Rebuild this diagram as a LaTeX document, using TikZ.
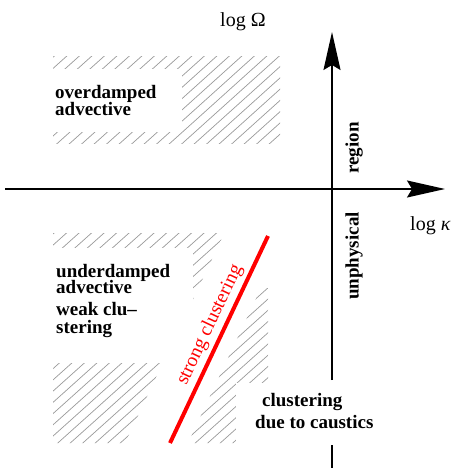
\documentclass[tikz,border=0pt]{standalone}
\usepackage{fontspec}
\setmainfont{Liberation Serif}
\usetikzlibrary{arrows.meta}
\begin{document}
\begin{tikzpicture}[x=1pt,y=-1pt,
  axis/.style={line width=1.5pt,-{Stealth[length=38pt,width=17pt,inset=5pt]}},
  axisline/.style={line width=1.5pt},
  hatch/.style={draw=black!40,line width=0.7pt},
  lbl/.style={font=\fontsize{19}{16}\selectfont\bfseries,inner sep=0pt,anchor=base west},
  axlbl/.style={font=\fontsize{20}{20}\selectfont,inner sep=0pt,anchor=base west},
  redline/.style={red,line width=4pt},
  redlbl/.style={font=\fontsize{19.5}{19}\selectfont,text=red,inner sep=0pt,rotate=64.7},
]
\useasboundingbox (0,0) rectangle (454,468);
% ---- hatched regions ----
\begin{scope}
  \clip (53,57) rectangle (280,143);
  \foreach \k in {-100,-87.5,...,300} \draw[hatch] (\k,150) -- ++(111,-100);
\end{scope}
\fill[white] (53,69) rectangle (182,132);
\begin{scope}
  \clip (53,233) -- (224.4,233) -- (125,443) -- (53,443) -- cycle;
  \foreach \k in {-250,-237.5,...,300} \draw[hatch] (\k,450) -- ++(256,-230);
\end{scope}
\begin{scope}
  \clip (261,288) -- (268,288) -- (268,443) -- (188,443) -- cycle;
  \foreach \k in {-250,-237.5,...,300} \draw[hatch] (\k,450) -- ++(256,-230);
\end{scope}
\fill[white] (53,248) rectangle (193,363);
\fill[white] (236,383) rectangle (270,450);
% ---- axes ----
\coordinate (xs) at (5,189);
\coordinate (xe) at (445,189);
\coordinate (yb) at (332,468);
\coordinate (yg2) at (332,445);
\coordinate (yg1) at (332,380);
\coordinate (yt) at (332,32);
\draw[axis] (xs) -- (xe);
\draw[axisline] (yb) -- (yg2);
\draw[axis] (yg1) -- (yt);
% ---- red line ----
\coordinate (r1) at (170,443);
\coordinate (r2) at (268,236);
\draw[redline] (r1) -- (r2);
% ---- labels ----
\node[axlbl] (lo) at (220,27) {log Ω};
\node[axlbl] (lk) at (410,230) {log {\itshape κ}};
\node[lbl,anchor=center,rotate=90] (reg) at (354,148) {region};
\node[lbl,anchor=center,rotate=90] (unp) at (354,256) {unphysical};
\node[lbl] (od1) at (55,99) {overdamped};
\node[lbl] (od2) at (55,115) {advective};
\node[lbl] (ud1) at (56,277) {underdamped};
\node[lbl] (ud2) at (56,293) {advective};
\node[lbl] (ud3) at (56,315) {weak clu–};
\node[lbl] (ud4) at (56,333) {stering};
\node[lbl] (cc1) at (262,406) {clustering};
\node[lbl] (cc2) at (255,428) {due to caustics};
\node[redlbl] (sc) at (210,325) {strong clustering};
\end{tikzpicture}
\end{document}
